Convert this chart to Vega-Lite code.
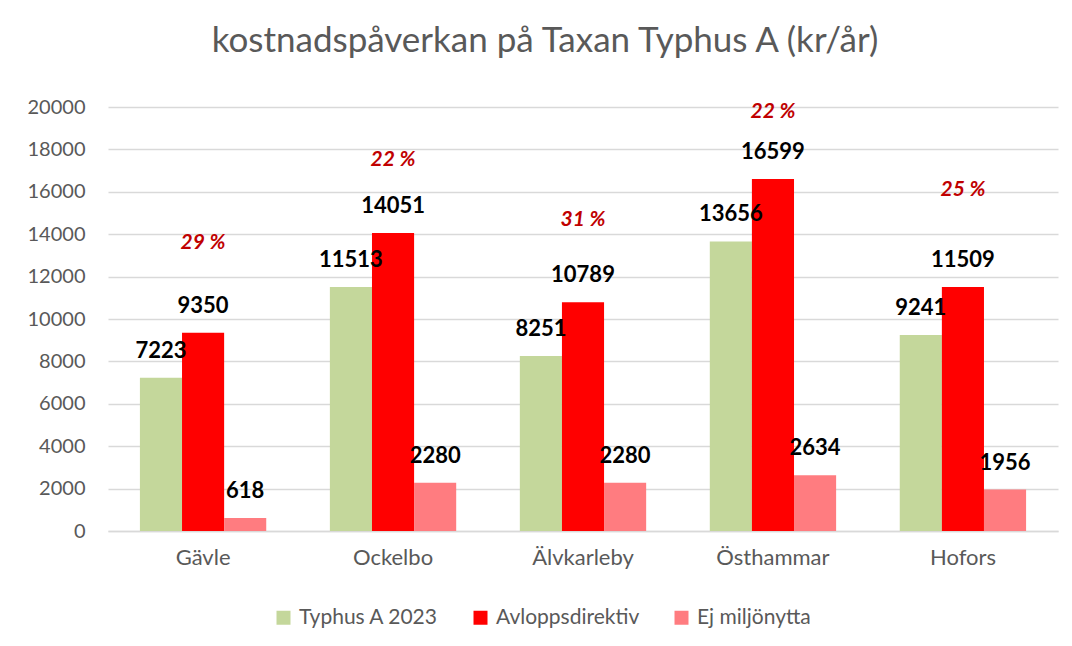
{
  "$schema": "https://vega.github.io/schema/vega-lite/v6.json",
  "width": 950,
  "height": 424,
  "autosize": {"type": "none"},
  "padding": {"left": 108, "top": 107, "right": 14, "bottom": 115},
  "background": "white",
  "title": {
    "text": "kostnadspåverkan på Taxan Typhus A (kr/år)",
    "font": "Lato",
    "fontSize": 35,
    "fontWeight": "normal",
    "color": "#595959",
    "anchor": "middle",
    "dx": -38,
    "offset": 38
  },
  "config": {
    "font": "Lato",
    "view": {"stroke": null}
  },
  "datasets": {
    "bars": [
      {"kommun": "Gävle", "serie": "Typhus A 2023", "varde": 7223},
      {"kommun": "Gävle", "serie": "Avloppsdirektiv", "varde": 9350},
      {"kommun": "Gävle", "serie": "Ej miljönytta", "varde": 618},
      {"kommun": "Ockelbo", "serie": "Typhus A 2023", "varde": 11513},
      {"kommun": "Ockelbo", "serie": "Avloppsdirektiv", "varde": 14051},
      {"kommun": "Ockelbo", "serie": "Ej miljönytta", "varde": 2280},
      {"kommun": "Älvkarleby", "serie": "Typhus A 2023", "varde": 8251},
      {"kommun": "Älvkarleby", "serie": "Avloppsdirektiv", "varde": 10789},
      {"kommun": "Älvkarleby", "serie": "Ej miljönytta", "varde": 2280},
      {"kommun": "Östhammar", "serie": "Typhus A 2023", "varde": 13656},
      {"kommun": "Östhammar", "serie": "Avloppsdirektiv", "varde": 16599},
      {"kommun": "Östhammar", "serie": "Ej miljönytta", "varde": 2634},
      {"kommun": "Hofors", "serie": "Typhus A 2023", "varde": 9241},
      {"kommun": "Hofors", "serie": "Avloppsdirektiv", "varde": 11509},
      {"kommun": "Hofors", "serie": "Ej miljönytta", "varde": 1956}
    ],
    "pct": [
      {"kommun": "Gävle", "andel": "29 %", "ankare": 13585},
      {"kommun": "Ockelbo", "andel": "22 %", "ankare": 17500},
      {"kommun": "Älvkarleby", "andel": "31 %", "ankare": 14670},
      {"kommun": "Östhammar", "andel": "22 %", "ankare": 19764},
      {"kommun": "Hofors", "andel": "25 %", "ankare": 16085}
    ]
  },
  "encoding": {
    "x": {
      "field": "kommun",
      "type": "nominal",
      "sort": ["Gävle", "Ockelbo", "Älvkarleby", "Östhammar", "Hofors"],
      "scale": {"paddingInner": 0.335, "paddingOuter": 0.168},
      "axis": {
        "title": null,
        "labelAngle": 0,
        "labelFontSize": 22,
        "labelColor": "#595959",
        "labelPadding": 16,
        "ticks": false,
        "domain": true,
        "domainColor": "#D9D9D9",
        "domainWidth": 1.5
      }
    }
  },
  "layer": [
    {
      "data": {"name": "bars"},
      "mark": {"type": "bar"},
      "encoding": {
        "xOffset": {
          "field": "serie",
          "type": "nominal",
          "sort": ["Typhus A 2023", "Avloppsdirektiv", "Ej miljönytta"]
        },
        "y": {
          "field": "varde",
          "type": "quantitative",
          "scale": {"domain": [0, 20000], "nice": false},
          "axis": {
            "title": null,
            "values": [0, 2000, 4000, 6000, 8000, 10000, 12000, 14000, 16000, 18000, 20000],
            "format": "d",
            "labelFontSize": 20,
            "labelColor": "#595959",
            "labelPadding": 23,
            "ticks": false,
            "domain": false,
            "grid": true,
            "gridColor": "#D9D9D9",
            "gridWidth": 1.5
          }
        },
        "color": {
          "field": "serie",
          "type": "nominal",
          "scale": {
            "domain": ["Typhus A 2023", "Avloppsdirektiv", "Ej miljönytta"],
            "range": ["#C4D79B", "#FF0000", "#FF7C80"]
          },
          "legend": {
            "title": null,
            "orient": "none",
            "direction": "horizontal",
            "legendX": 165,
            "legendY": 500,
            "padding": 0,
            "symbolType": "square",
            "symbolSize": 196,
            "symbolStrokeWidth": 0,
            "labelFontSize": 21,
            "labelColor": "#595959",
            "labelOffset": 5,
            "columnPadding": 31
          }
        }
      }
    },
    {
      "data": {"name": "bars"},
      "mark": {
        "type": "text",
        "fontSize": 22,
        "fontWeight": "bold",
        "color": "black",
        "baseline": "alphabetic",
        "dy": -20
      },
      "encoding": {
        "xOffset": {
          "field": "serie",
          "type": "nominal",
          "sort": ["Typhus A 2023", "Avloppsdirektiv", "Ej miljönytta"]
        },
        "y": {"field": "varde", "type": "quantitative"},
        "text": {"field": "varde", "type": "quantitative", "format": "d"}
      }
    },
    {
      "data": {"name": "pct"},
      "mark": {
        "type": "text",
        "fontSize": 21,
        "fontWeight": "bold",
        "fontStyle": "italic",
        "color": "#C00000",
        "baseline": "middle"
      },
      "encoding": {
        "y": {"field": "ankare", "type": "quantitative"},
        "text": {"field": "andel", "type": "nominal"}
      }
    }
  ]
}
